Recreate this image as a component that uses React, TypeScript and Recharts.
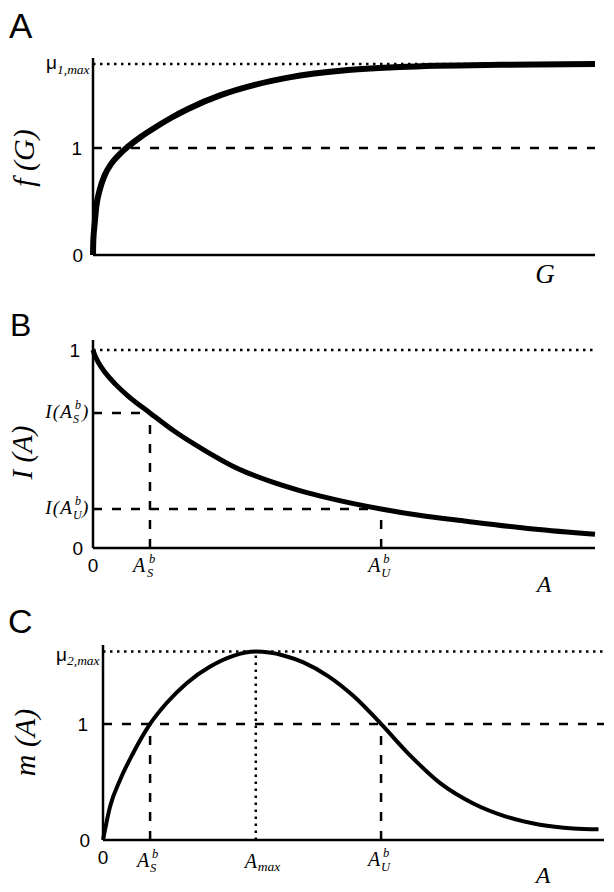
import { Label, Line, LineChart, ReferenceLine, XAxis, YAxis } from "recharts";

const SANS = "'Liberation Sans', Arial, sans-serif";
const SERIF = "'Liberation Serif', 'Times New Roman', serif";

// Panel A: f(G)
const growthG = [0, 0.005, 0.034, 0.066, 0.133, 0.233, 0.365, 0.532, 0.697, 0.962, 1.229, 1.56, 1.892, 2.556, 3.221, 3.884, 5.08, 6.116, 8.108, 10];
const growthF = [0, 0.12, 0.296, 0.451, 0.607, 0.745, 0.853, 0.943, 1.012, 1.107, 1.189, 1.282, 1.364, 1.495, 1.589, 1.657, 1.728, 1.757, 1.777, 1.783];
const MU1_MAX = 1.785;

// Panel B: I(A)
const inhibA = [0, 0.03, 0.1, 0.25, 0.45, 0.7, 1.135, 1.63, 2.23, 2.89, 3.55, 4.12, 4.7, 5.74, 6.5, 7.44, 8.77, 10];
const inhibI = [1, 0.977, 0.94, 0.883, 0.826, 0.767, 0.682, 0.588, 0.492, 0.4, 0.335, 0.29, 0.252, 0.197, 0.165, 0.135, 0.096, 0.069];
const B_AS = 1.135;
const B_IS = 0.682;
const B_AU = 5.74;
const B_IU = 0.197;

// Panel C: m(A)
const mA = [0, 0.14, 0.34, 0.6, 0.94, 1.27, 1.67, 2.14, 2.6, 3.05, 3.6, 4.0, 4.5, 5.0, 5.55, 6.06, 6.73, 7.39, 8.06, 8.72, 9.39, 9.89];
const mV = [0, 0.287, 0.517, 0.747, 1.0, 1.18, 1.351, 1.494, 1.586, 1.623, 1.59, 1.53, 1.41, 1.24, 1.0, 0.76, 0.49, 0.315, 0.2, 0.132, 0.1, 0.092];
const C_AS = 0.94;
const C_AMAX = 3.05;
const C_AU = 5.55;
const MU2_MAX = 1.623;

const growthData = growthG.map((x, i) => ({ x, y: growthF[i] }));
const inhibData = inhibA.map((x, i) => ({ x, y: inhibI[i] }));
const mData = mA.map((x, i) => ({ x, y: mV[i] }));

const ital = { fontFamily: SERIF, fontStyle: "italic" as const };
const sans = { fontFamily: SANS };
const axisLine = { stroke: "#000", strokeWidth: 2.5 };
const DASH = "9 10";
const DOT = "2.5 4.5";

function YTitle({ viewBox, text, size, cx, dy }: any) {
  const cy = viewBox.y + viewBox.height / 2 + dy;
  return (
    <text x={cx} y={cy} transform={`rotate(-90 ${cx} ${cy})`} textAnchor="middle"
      dominantBaseline="central" fontSize={size} fill="#000" style={ital}>
      {text}
    </text>
  );
}

function XTitle({ viewBox, text, size, dx, dy }: any) {
  return (
    <text x={viewBox.x + viewBox.width + dx} y={viewBox.y + dy} textAnchor="middle"
      fontSize={size} fill="#000" style={ital}>
      {text}
    </text>
  );
}

function Num({ x, y, text, dx }: any) {
  return (
    <text x={x + dx} y={y + 7} textAnchor="end" fontSize={19} fill="#000" style={sans}>{text}</text>
  );
}

function MuLabel({ x, y, idx, muDy, subDy }: any) {
  return (
    <g>
      <text x={x - 47} y={y + muDy} fontSize={19} fill="#000" style={sans}>μ</text>
      <text x={x - 36} y={y + subDy} fontSize={13.5} fill="#000" style={ital}>{idx},max</text>
    </g>
  );
}

function GrowthYTick({ x, y, payload }: any) {
  const v = payload.value;
  if (v === 0) return <Num x={x} y={y} text="0" dx={-10} />;
  if (v === 1) return <Num x={x} y={y} text="1" dx={-11} />;
  return <MuLabel x={x} y={y} idx="1" muDy={5} subDy={10} />;
}

function InhibYTick({ x, y, payload }: any) {
  const v = payload.value;
  if (v === 0) return <Num x={x} y={y} text="0" dx={-10} />;
  if (v === 1) return <Num x={x} y={y} text="1" dx={-13} />;
  const sub = v === B_IS ? "S" : "U";
  return (
    <g fill="#000">
      <text x={x - 20} y={y + 5} textAnchor="end" fontSize={19} letterSpacing={1.2} style={ital}>I(A</text>
      <text x={x - 18} y={y - 4} fontSize={12} style={ital}>b</text>
      <text x={x - 20} y={y + 10} fontSize={12} style={ital}>{sub}</text>
      <text x={x - 11} y={y + 5} fontSize={19} style={ital}>)</text>
    </g>
  );
}

function ScriptA({ x, y, aDx, sDx, sub, base }: any) {
  return (
    <g fill="#000">
      <text x={x + aDx} y={y + base} fontSize={20} style={ital}>A</text>
      <text x={x + sDx + 2} y={y + base - 9} fontSize={12.5} style={ital}>b</text>
      <text x={x + sDx} y={y + base + 5} fontSize={12.5} style={ital}>{sub}</text>
    </g>
  );
}

function InhibXTick({ x, y, payload }: any) {
  const v = payload.value;
  if (v === 0) {
    return <text x={x} y={y + 24} textAnchor="middle" fontSize={19} fill="#000" style={sans}>0</text>;
  }
  if (v === B_AS) return <ScriptA x={x} y={y} aDx={-17} sDx={-3} sub="S" base={24} />;
  return <ScriptA x={x} y={y} aDx={-13} sDx={0} sub="U" base={24} />;
}

function MYTick({ x, y, payload }: any) {
  const v = payload.value;
  if (v === 0) return <Num x={x} y={y} text="0" dx={-13} />;
  if (v === 1) return <Num x={x} y={y} text="1" dx={-15} />;
  return <MuLabel x={x} y={y} idx="2" muDy={9} subDy={13} />;
}

function MXTick({ x, y, payload }: any) {
  const v = payload.value;
  if (v === 0) {
    return <text x={x} y={y + 24} textAnchor="middle" fontSize={19} fill="#000" style={sans}>0</text>;
  }
  if (v === C_AS) return <ScriptA x={x} y={y} aDx={-13} sDx={0} sub="S" base={27} />;
  if (v === C_AU) return <ScriptA x={x} y={y} aDx={-13} sDx={0} sub="U" base={26} />;
  return (
    <g fill="#000">
      <text x={x - 11} y={y + 28} fontSize={20} style={ital}>A</text>
      <text x={x + 2} y={y + 31} fontSize={13.5} style={ital}>max</text>
    </g>
  );
}

const letter = (top: number, left: number, size: number) => ({
  position: "absolute" as const, top, left, fontFamily: SANS, fontSize: size, lineHeight: "1",
});

export default function App() {
  return (
    <div style={{ position: "absolute", left: 0, top: 0, width: 614, height: 892, background: "#fff" }}>
      <div style={letter(8.4, 9, 35)}>A</div>
      <div style={letter(309, 10, 32)}>B</div>
      <div style={letter(604, 8, 34)}>C</div>

      <div style={{ position: "absolute", left: 0, top: 0 }}>
        <LineChart width={614} height={300} data={growthData} margin={{ top: 58, right: 19, bottom: 15, left: 0 }}>
          <XAxis type="number" dataKey="x" domain={[0, 10]} tick={false} tickLine={false} axisLine={axisLine} height={30}>
            <Label content={<XTitle text="G" size={27} dx={-50} dy={28} />} />
          </XAxis>
          <YAxis type="number" domain={[0, 1.84]} ticks={[0, 1, MU1_MAX]} interval={0} width={93}
            tickLine={false} tickSize={0} tickMargin={0} axisLine={axisLine} tick={(p: any) => <GrowthYTick {...p} />}>
            <Label content={<YTitle text="f (G)" size={30} cx={23} dy={1.5} />} />
          </YAxis>
          <ReferenceLine y={MU1_MAX} stroke="#000" strokeWidth={2.5} strokeDasharray={DOT} />
          <ReferenceLine y={1} stroke="#000" strokeWidth={2.5} strokeDasharray={DASH} />
          <Line type="monotone" dataKey="y" stroke="#000" strokeWidth={6} dot={false} isAnimationActive={false} />
        </LineChart>
      </div>

      <div style={{ position: "absolute", left: 0, top: 300 }}>
        <LineChart width={614} height={300} data={inhibData} margin={{ top: 40, right: 19, bottom: 22, left: 0 }}>
          <XAxis type="number" dataKey="x" domain={[0, 10]} ticks={[0, B_AS, B_AU]} interval={0} tickLine={false}
            tickSize={0} tickMargin={0} axisLine={axisLine} height={30} tick={(p: any) => <InhibXTick {...p} />}>
            <Label content={<XTitle text="A" size={24} dx={-51} dy={44} />} />
          </XAxis>
          <YAxis type="number" domain={[0, 1.05]} ticks={[0, B_IU, B_IS, 1]} interval={0} width={93}
            tickLine={false} tickSize={0} tickMargin={0} axisLine={axisLine} tick={(p: any) => <InhibYTick {...p} />}>
            <Label content={<YTitle text="I (A)" size={29} cx={22} dy={8.5} />} />
          </YAxis>
          <ReferenceLine y={1} stroke="#000" strokeWidth={2.5} strokeDasharray={DOT} />
          <ReferenceLine segment={[{ x: 0, y: B_IS }, { x: B_AS, y: B_IS }]} stroke="#000" strokeWidth={2.5} strokeDasharray={DASH} />
          <ReferenceLine segment={[{ x: B_AS, y: 0 }, { x: B_AS, y: B_IS }]} stroke="#000" strokeWidth={2.5} strokeDasharray={DASH} />
          <ReferenceLine segment={[{ x: 0, y: B_IU }, { x: B_AU, y: B_IU }]} stroke="#000" strokeWidth={2.5} strokeDasharray={DASH} />
          <ReferenceLine segment={[{ x: B_AU, y: 0 }, { x: B_AU, y: B_IU }]} stroke="#000" strokeWidth={2.5} strokeDasharray={DASH} />
          <Line type="monotone" dataKey="y" stroke="#000" strokeWidth={5} dot={false} isAnimationActive={false} />
        </LineChart>
      </div>

      <div style={{ position: "absolute", left: 0, top: 600 }}>
        <LineChart width={614} height={292} data={mData} margin={{ top: 45, right: 10, bottom: 22, left: 0 }}>
          <XAxis type="number" dataKey="x" domain={[0, 10]} ticks={[0, C_AS, C_AMAX, C_AU]} interval={0} tickLine={false}
            tickSize={0} tickMargin={0} axisLine={axisLine} height={30} tick={(p: any) => <MXTick {...p} />}>
            <Label content={<XTitle text="A" size={24} dx={-61} dy={43} />} />
          </XAxis>
          <YAxis type="number" domain={[0, 1.68]} ticks={[0, 1, MU2_MAX]} interval={0} width={103}
            tickLine={false} tickSize={0} tickMargin={0} axisLine={axisLine} tick={(p: any) => <MYTick {...p} />}>
            <Label content={<YTitle text="m (A)" size={30} cx={24} dy={0} />} />
          </YAxis>
          <ReferenceLine y={MU2_MAX} stroke="#000" strokeWidth={2.5} strokeDasharray={DOT} />
          <ReferenceLine y={1} stroke="#000" strokeWidth={2.5} strokeDasharray={DASH} />
          <ReferenceLine segment={[{ x: C_AS, y: 0 }, { x: C_AS, y: 1 }]} stroke="#000" strokeWidth={2.5} strokeDasharray={DASH} />
          <ReferenceLine segment={[{ x: C_AMAX, y: 0 }, { x: C_AMAX, y: MU2_MAX }]} stroke="#000" strokeWidth={2.5} strokeDasharray={DOT} />
          <ReferenceLine segment={[{ x: C_AU, y: 0 }, { x: C_AU, y: 1 }]} stroke="#000" strokeWidth={2.5} strokeDasharray={DASH} />
          <Line type="monotone" dataKey="y" stroke="#000" strokeWidth={4} dot={false} isAnimationActive={false} />
        </LineChart>
      </div>
    </div>
  );
}
